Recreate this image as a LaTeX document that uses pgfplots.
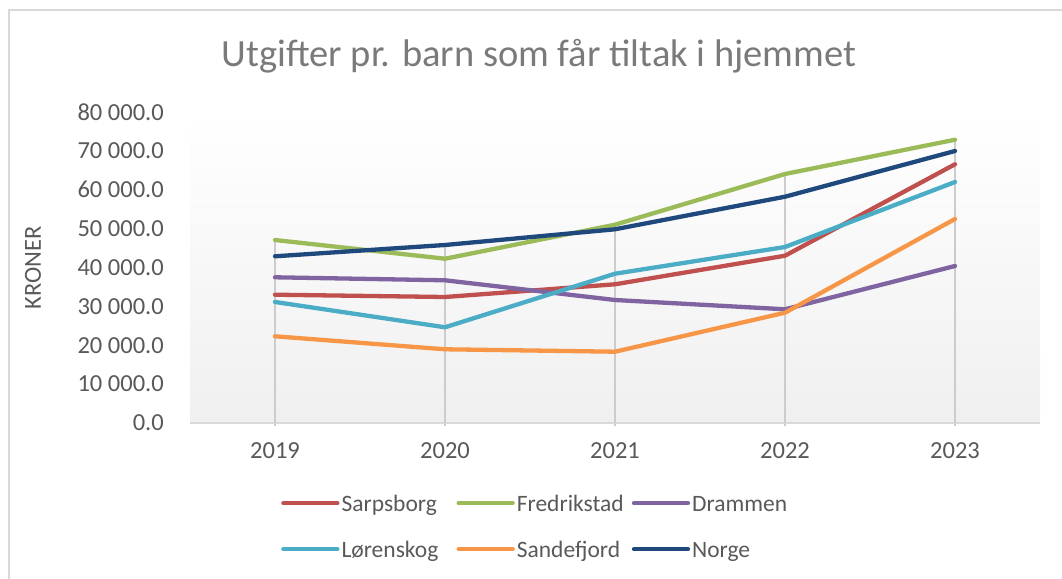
\documentclass[border=0pt]{standalone}
\usepackage{fontspec}
\setmainfont{Carlito}
\usepackage{pgfplots}
\usepackage{pgfplotstable}
\pgfplotsset{compat=1.18}
\definecolor{cSarp}{HTML}{C0504D}
\definecolor{cFred}{HTML}{9BBB59}
\definecolor{cDram}{HTML}{8064A2}
\definecolor{cLor}{HTML}{4BACC6}
\definecolor{cSand}{HTML}{F79646}
\definecolor{cNorge}{HTML}{1F497D}
\definecolor{txt}{HTML}{595959}
\definecolor{titlegray}{HTML}{7A7A7A}
\definecolor{bordergray}{HTML}{D9D9D9}
\definecolor{dropgray}{HTML}{CCCCCC}
\pgfplotstableread{
x Sarpsborg Fredrikstad Drammen Lorenskog Sandefjord Norge Max
0 33000 47070 37480 31130 22300 42880 47070
1 32410 42260 36710 24620 18960 45790 45790
2 35680 51010 31640 38400 18340 49830 51010
3 43030 64050 29250 45270 28370 58210 64050
4 66550 72870 40390 61990 52480 69970 72870
}\datatable
\begin{document}
\begin{tikzpicture}[x=1pt,y=1pt]
\useasboundingbox (0,0) rectangle (1062,578);
\draw[bordergray, line width=1.5pt] (9,-5) -- (9,568) -- (1070,568);
\begin{axis}[
  at={(190pt,155pt)}, anchor=south west,
  width=850pt, height=311pt, scale only axis,
  xmin=-0.5, xmax=4.5, ymin=0, ymax=80000,
  scaled y ticks=false,
  axis background/.style={shade, top color=white, bottom color=black!6},
  axis x line*=bottom, axis y line*=left,
  x axis line style={-, draw=bordergray, line width=2pt},
  y axis line style={draw=none},
  xtick={0,1,2,3,4}, xticklabels={2019,2020,2021,2022,2023},
  ytick={0,10000,20000,30000,40000,50000,60000,70000,80000},
  yticklabels={0.0,10 000.0,20 000.0,30 000.0,40 000.0,50 000.0,60 000.0,70 000.0,80 000.0},
  ytick style={draw=none},
  xtick style={draw=dropgray, line width=1.5pt},
  tick align=outside, major tick length=3pt,
  ticklabel style={font=\fontsize{24.5}{29}\selectfont, text=txt},
  yticklabel style={inner sep=0pt, xshift=-23pt, anchor=east},
  xticklabel style={inner sep=0pt, anchor=north, yshift=-16pt},
  title={Utgifter pr. barn som får tiltak i hjemmet},
  title style={at={(axis description cs:0.4106,1.151)}, anchor=base, inner sep=0pt, yshift=-7pt,
    font=\fontsize{38.5}{44}\selectfont, text=titlegray},
  ylabel={KRONER},
  every axis y label/.style={at={(axis description cs:-0.1847,0.498)}, rotate=90, anchor=center,
    font=\fontsize{24.5}{29}\selectfont, text=txt, inner sep=0pt},
  legend columns=3,
  legend image code/.code={\path (0pt,0pt) -- (54pt,0pt); \draw[#1, line cap=round] (2pt,0pt) -- (52pt,0pt);},
  legend style={at={(axis description cs:0.1071,-0.2186)}, anchor=north west,
    draw=none, fill=none, inner sep=0pt, cells={anchor=west},
    nodes={inner sep=0pt, text height=20pt, text depth=4pt, text width=115pt,
      font=\fontsize{23.5}{28}\selectfont, text=txt},
    row sep=22pt,
    /tikz/every odd column/.style={column sep=2pt},
    /tikz/every even column/.style={column sep=0pt}},
  every axis plot/.append style={line width=4.3pt, line cap=round, line join=round},
  clip=false,
]
\addplot[ycomb, dropgray, line width=2pt, line cap=butt, forget plot, mark=none] table[x=x,y=Max]{\datatable};
\addplot[cSarp, mark=none] table[x=x,y=Sarpsborg]{\datatable};
\addlegendentry{Sarpsborg}
\addplot[cFred, mark=none] table[x=x,y=Fredrikstad]{\datatable};
\addlegendentry{Fredrikstad}
\addplot[cDram, mark=none] table[x=x,y=Drammen]{\datatable};
\addlegendentry{Drammen}
\addplot[cLor, mark=none] table[x=x,y=Lorenskog]{\datatable};
\addlegendentry{Lørenskog}
\addplot[cSand, mark=none] table[x=x,y=Sandefjord]{\datatable};
\addlegendentry{Sandefjord}
\addplot[cNorge, mark=none] table[x=x,y=Norge]{\datatable};
\addlegendentry{Norge}
\end{axis}
\end{tikzpicture}
\end{document}
